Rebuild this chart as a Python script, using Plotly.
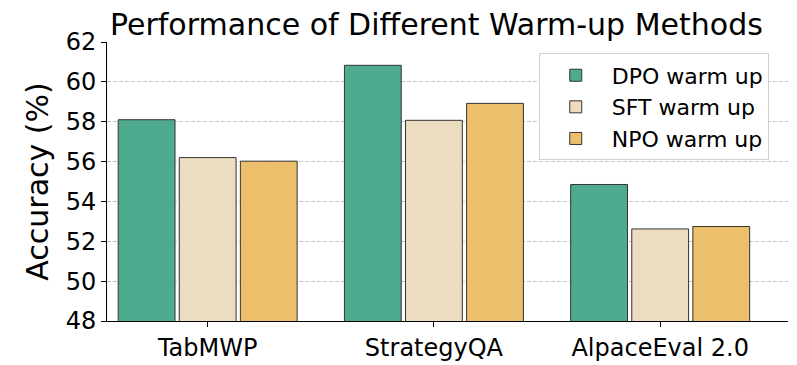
import plotly.graph_objects as go

# benchmark names and accuracy per warm-up method
categories = ["TabMWP", "StrategyQA", "AlpaceEval 2.0"]
dpo_acc = [58.1, 60.83, 54.85]
sft_acc = [56.2, 58.07, 52.62]
npo_acc = [56.02, 58.92, 52.74]

y_ticks = [48, 50, 52, 54, 56, 58, 60, 62]

series = [
    ("DPO warm up", dpo_acc, "#4fab8f"),
    ("SFT warm up", sft_acc, "#ecdcc0"),
    ("NPO warm up", npo_acc, "#ecbf6d"),
]

fig = go.Figure()
for name, vals, color in series:
    fig.add_trace(go.Bar(
        x=categories, y=vals, name=name,
        marker=dict(color=color, line=dict(color="#333333", width=1)),
    ))

# page body has an 8px default margin, so the figure is sized a bit smaller
fig.update_layout(
    width=789, height=357,
    barmode="group", bargap=0.19, bargroupgap=0.07,
    plot_bgcolor="white", paper_bgcolor="white",
    font=dict(family="DejaVu Sans", color="black"),
    margin=dict(l=99, r=9, t=33.5, b=44),
    title=dict(text="Performance of Different Warm-up Methods", x=0.543, xanchor="center",
               y=0.955, yanchor="middle", font=dict(size=30)),
    legend=dict(x=0.634, y=0.959, xanchor="left", yanchor="top",
                bordercolor="#d0d0d0", borderwidth=1, bgcolor="white",
                font=dict(size=22), itemwidth=62),
)
fig.update_yaxes(
    range=[48, 62], tickvals=y_ticks, tickfont=dict(size=24), automargin=False,
    title=dict(text="Accuracy (%)", font=dict(size=30), standoff=8),
    showgrid=True, gridcolor="#c4c4c4", griddash="4px,2px", gridwidth=1,
    showline=True, linecolor="black", linewidth=1,
    ticks="outside", ticklen=5, tickcolor="black", zeroline=False,
)
fig.update_xaxes(
    range=[-0.445, 2.565], tickfont=dict(size=24), automargin=False,
    showline=True, linecolor="black", linewidth=1,
    ticks="outside", ticklen=5, tickcolor="black",
)

fig.write_html("out.html")
